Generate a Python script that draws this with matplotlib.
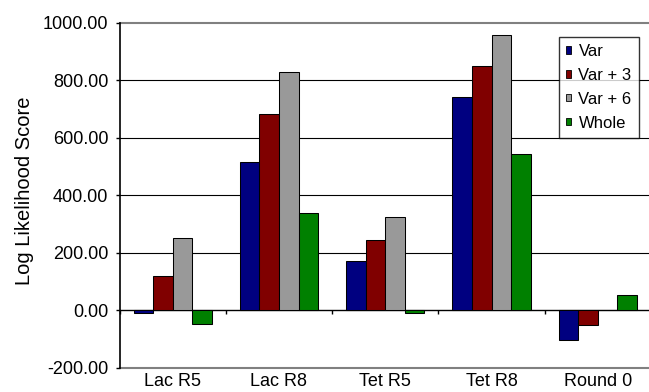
import matplotlib
matplotlib.use("Agg")
import matplotlib.pyplot as plt
import numpy as np
from matplotlib.patches import Patch

plt.rcParams['font.family'] = ['Liberation Sans', 'DejaVu Sans']

categories = ["Lac R5", "Lac R8", "Tet R5", "Tet R8", "Round 0"]
series_names = ["Var", "Var + 3", "Var + 6", "Whole"]
var_vals = [-10, 517, 171, 742, -105]
var3_vals = [119, 682, 243, 848, -51]
var6_vals = [250, 830, 324, 957, 2]
whole_vals = [-48, 337, -8, 542, 52]
colors = ["#000080", "#800000", "#999999", "#008000"]
yticks = [-200, 0, 200, 400, 600, 800, 1000]

series = [var_vals, var3_vals, var6_vals, whole_vals]

W, H = 649, 392
fig = plt.figure(figsize=(W / 100, H / 100), dpi=100)
left_px, right_px = 119.5, 651.0
top_px, bot_px = 22.7, 367.8
ax = fig.add_axes([left_px / W, 1 - bot_px / H, (right_px - left_px) / W, (bot_px - top_px) / H])

x = np.arange(len(categories))
bw = 0.184
n = len(series)
for i, (vals, c, name) in enumerate(zip(series, colors, series_names)):
    offs = (i - (n - 1) / 2) * bw
    ax.bar(x + offs, vals, width=bw, color=c, edgecolor="black", linewidth=0.75, label=name, zorder=3)

ax.set_xlim(-0.5, len(categories) - 0.5)
ax.set_ylim(-200, 1000)

# gridlines
for yv in yticks:
    if yv in (-200, 1000):
        ax.axhline(yv, color="#808080", lw=1.5, zorder=1, clip_on=False)
    elif yv != 0:
        ax.axhline(yv, color="black", lw=0.8, zorder=1)

for s in ["top", "right", "bottom"]:
    ax.spines[s].set_visible(False)
ax.spines["left"].set_color("black")
ax.spines["left"].set_linewidth(1.2)

ax.set_yticks(yticks)
ax.set_yticklabels([f"{v:.2f}" for v in yticks])
ax.tick_params(axis="y", length=3, width=1, direction="out", pad=5, labelsize=13, colors="black")

ax.set_xticks(x)
ax.set_xticklabels(categories)
ax.tick_params(axis="x", length=0, pad=4, labelsize=13)

# category axis at zero with boundary ticks
sec = ax.secondary_xaxis(200 / 1200)
sec.set_xticks(np.arange(len(categories) + 1) - 0.5)
sec.tick_params(axis="x", length=3, width=1, direction="out", labelbottom=False, colors="black")
sec.spines["bottom"].set_color("black")
sec.spines["bottom"].set_linewidth(1.0)

ax.set_ylabel("Log Likelihood Score", fontsize=14.5)
ax.yaxis.set_label_coords((34 - left_px) / (right_px - left_px), (bot_px - 190.5) / (bot_px - top_px))

handles = [Patch(facecolor=c, edgecolor="black", linewidth=0.6) for c in colors]
leg = ax.legend(handles, series_names, loc="upper left",
                bbox_to_anchor=(559 / W, 1 - 37 / H), bbox_transform=fig.transFigure,
                fontsize=12, frameon=True, fancybox=False, shadow=False,
                handlelength=0.3, handleheight=0.3, handletextpad=0.45,
                labelspacing=0.53, borderpad=0.42, borderaxespad=0)
leg.get_frame().set_edgecolor("black")
leg.get_frame().set_linewidth(1.0)
leg.set_zorder(5)

fig.savefig("out.png", dpi=100)
